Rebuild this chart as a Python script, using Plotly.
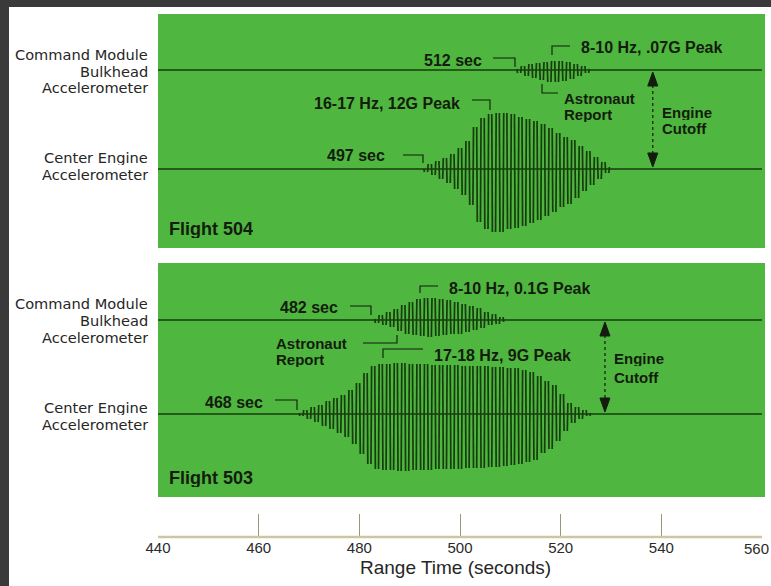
import numpy as np
import plotly.graph_objects as go

# ---------------- data ----------------
x_ticks = [440, 460, 480, 500, 520, 540, 560]
x_title = "Range Time (seconds)"
row_labels_cm = ["Command Module", "Bulkhead", "Accelerometer"]
row_labels_ce = ["Center Engine", "Accelerometer"]

# Flight 504 - command module bulkhead accelerometer (signed swing per stroke)
f504_cm_start = 511.0
f504_cm_step = 0.75
f504_cm_vals = [1, -3, 4, -6, 6, -8, 7, -10, 8, -12, 9, -12, 9, -11, 8, -9, 6, -6, 4, -3, 1]

# Flight 504 - center engine accelerometer
f504_ce_start = 492.5
f504_ce_step = 0.75
f504_ce_vals = [0, -3, 5, -6, 8, -10, 11, -14, 15, -20, 21, -26, 28, -36, 42, -53,
                51, -60, 55, -63, 56, -63, 56, -60, 55, -59, 52, -57, 50, -54, 48,
                -51, 45, -47, 41, -43, 36, -38, 32, -35, 29, -29, 23, -22, 18, -16,
                12, -10, 7, -4, 2]

# Flight 503 - command module bulkhead accelerometer
f503_cm_start = 482.75
f503_cm_step = 0.75
f503_cm_vals = [1, -3, 5, -5, 8, -7, 11, -11, 15, -14, 18, -15, 21, -16, 22, -17, 22,
                -16, 21, -15, 20, -14, 18, -14, 16, -12, 14, -10, 12, -8, 8, -5, 6,
                -4, 3, -2]

# Flight 503 - center engine accelerometer
f503_ce_start = 467.75
f503_ce_step = 0.75
f503_ce_vals = [1, -2, 4, -5, 7, -8, 9, -12, 13, -15, 16, -19, 19, -23, 24, -30, 31,
                -40, 41, -50, 48, -55, 50, -56,
                50, -56, 51, -57, 51, -57, 50, -56, 50, -56, 50, -56, 49, -55, 49,
                -55, 49, -55, 49, -55, 48, -54, 48, -54, 48, -54, 48, -53, 47, -53,
                47, -52, 46, -51, 46, -50, 44, -48, 42, -46, 38, -39, 33, -35, 29,
                -27, 20, -17, 11, -9, 7, -5, 4, -2, 1]

# event times (s)
f504_cutoff = 538.3
f503_cutoff = 528.8

# ---------------- layout constants ----------------
PX0, PX1 = 158, 762          # plot area left/right in px
PT, PB = 14, 537             # plot area top/bottom in px
W, H = 771, 586
SPAN = PX1 - PX0
HGT = PB - PT


def px_x(px):
    return (px - PX0) / SPAN


def px_y(py):
    return (PB - py) / HGT


def t_of(px):
    return 440 + (px - PX0) * 120.0 / SPAN


BASE = {"504cm": 178, "504ce": 79, "503cm": 177, "503ce": 83}
SIG = "#173d0f"
TXT = "#131c0d"
GREEN = "#4fb63f"
TICKFONT = dict(family="Liberation Sans, Arial, sans-serif", size=15, color="#2a2a2a")

fig = go.Figure()


def add_signal(start, step, vals, base, yax):
    # flat trace line across the whole panel
    fig.add_trace(go.Scatter(x=[440.0, 561.0], y=[base, base], mode="lines", yaxis=yax,
                             line=dict(color=SIG, width=1.4),
                             hoverinfo="skip", showlegend=False))
    # each swing drawn as a near-vertical pen stroke between consecutive extremes
    v = np.asarray(vals, float)
    t = start + step * np.arange(len(v))
    xs, ys = [], []
    for k in range(len(v) - 1):
        tm = 0.5 * (t[k] + t[k + 1])
        xs += [tm - 0.06, tm + 0.06, None]
        ys += [base + v[k], base + v[k + 1], None]
    fig.add_trace(go.Scatter(x=xs, y=ys, mode="lines", yaxis=yax,
                             line=dict(color=SIG, width=1.7),
                             hoverinfo="skip", showlegend=False, connectgaps=False))


add_signal(f504_cm_start, f504_cm_step, f504_cm_vals, BASE["504cm"], "y")
add_signal(f504_ce_start, f504_ce_step, f504_ce_vals, BASE["504ce"], "y")
add_signal(f503_cm_start, f503_cm_step, f503_cm_vals, BASE["503cm"], "y2")
add_signal(f503_ce_start, f503_ce_step, f503_ce_vals, BASE["503ce"], "y2")

shapes = []
# green panels
for ya in ["y", "y2"]:
    shapes.append(dict(type="rect", xref="paper", yref=ya + " domain", x0=0, x1=px_x(765),
                       y0=0, y1=1, fillcolor=GREEN, line_width=0, layer="below"))
# dark frame of the scan (kept inside the page)
shapes.append(dict(type="rect", xref="paper", yref="paper", x0=px_x(0), x1=px_x(9),
                   y0=px_y(H), y1=px_y(0), fillcolor="#3a3a3a", line_width=0, layer="above"))
shapes.append(dict(type="rect", xref="paper", yref="paper", x0=px_x(0), x1=px_x(W),
                   y0=px_y(7), y1=px_y(0), fillcolor="#3a3a3a", line_width=0, layer="above"))
# time axis line
shapes.append(dict(type="line", xref="x", yref="paper", x0=440, x1=560, y0=0, y1=0,
                   line=dict(color="#cdc5a3", width=2.5)))


def bracket(pts, yref):
    p = "M " + " L ".join(f"{t_of(a)},{b}" for a, b in pts)
    shapes.append(dict(type="path", xref="x", yref=yref, path=p,
                       line=dict(color=TXT, width=1.1)))


# top panel brackets (px x, panel units y)
bracket([(493, 190), (515, 190), (515, 181)], "y")        # 512 sec
bracket([(570, 202), (552, 202), (552, 193)], "y")        # 8-10 Hz
bracket([(542, 164), (542, 155), (558, 155)], "y")        # Astronaut report
bracket([(472, 148), (490, 148), (490, 138)], "y")        # 16-17 Hz
bracket([(403, 93), (423, 93), (423, 85)], "y")           # 497 sec
# bottom panel brackets
bracket([(350, 191), (371, 191), (371, 182)], "y2")       # 482 sec
bracket([(438, 211), (420, 211), (420, 204)], "y2")       # 8-10 Hz
bracket([(363, 154), (397, 154), (397, 162)], "y2")       # Astronaut report
bracket([(423, 148), (383, 148), (383, 139)], "y2")       # 17-18 Hz
bracket([(275, 97), (297, 97), (297, 87)], "y2")          # 468 sec


def cutoff_arrow(t, ytop, ybot, yref):
    hw = 1.0
    shapes.append(dict(type="line", xref="x", yref=yref, x0=t, x1=t, y0=ytop - 15, y1=ybot + 15,
                       line=dict(color=TXT, width=1.2, dash="dot")))
    shapes.append(dict(type="path", xref="x", yref=yref,
                       path=f"M {t-hw},{ytop-16} L {t},{ytop-2} L {t+hw},{ytop-16} Z",
                       fillcolor=TXT, line=dict(color=TXT, width=1)))
    shapes.append(dict(type="path", xref="x", yref=yref,
                       path=f"M {t-hw},{ybot+16} L {t},{ybot+2} L {t+hw},{ybot+16} Z",
                       fillcolor=TXT, line=dict(color=TXT, width=1)))


cutoff_arrow(f504_cutoff, BASE["504cm"], BASE["504ce"], "y")
cutoff_arrow(f503_cutoff, BASE["503cm"], BASE["503ce"], "y2")

ann = []
AF = dict(family="Liberation Sans, Arial, sans-serif", size=16, color=TXT)


def label(px, y, text, yref, size=16):
    f = dict(AF)
    f["size"] = size
    ann.append(dict(x=t_of(px), y=y, xref="x", yref=yref, text="<b>" + text + "</b>",
                    showarrow=False, xanchor="left", yanchor="middle", font=f,
                    height=size + 1))


label(422, 188, "512 sec", "y")
label(579, 201, "8-10 Hz, .07G Peak", "y")
label(562, 150.5, "Astronaut", "y", 15)
label(562, 134, "Report", "y", 15)
label(312, 145, "16-17 Hz, 12G Peak", "y")
label(325, 93, "497 sec", "y")
label(660, 136.5, "Engine", "y", 15)
label(660, 120, "Cutoff", "y", 15)
label(167, 20, "Flight 504", "y", 18)

label(278, 190, "482 sec", "y2")
label(447, 209, "8-10 Hz, 0.1G Peak", "y2")
label(274, 154.5, "Astronaut", "y2", 15)
label(274, 138, "Report", "y2", 15)
label(432, 142, "17-18 Hz, 9G Peak", "y2")
label(203, 95, "468 sec", "y2")
label(612, 139, "Engine", "y2", 15)
label(612, 120, "Cutoff", "y2", 15)
label(167, 20, "Flight 503", "y2", 18)

LF = dict(family="DejaVu Sans, sans-serif", size=14.6, color="#262626")
for yref, ys_cm, ys_ce in [("y", [193.5, 177, 160.5], [91, 74]), ("y2", [194, 177, 160], [90, 73])]:
    for txt, yy in zip(row_labels_cm, ys_cm):
        ann.append(dict(x=px_x(150), y=yy, xref="paper", yref=yref, text=txt, showarrow=False,
                        xanchor="right", yanchor="middle", font=LF, height=15))
    for txt, yy in zip(row_labels_ce, ys_ce):
        ann.append(dict(x=px_x(150), y=yy, xref="paper", yref=yref, text=txt, showarrow=False,
                        xanchor="right", yanchor="middle", font=LF, height=15))

ann.append(dict(x=t_of(455), y=px_y(567), xref="x", yref="paper", text=x_title,
                showarrow=False, xanchor="center", yanchor="middle",
                font=dict(family="Liberation Sans, Arial, sans-serif", size=19, color="#262626")))

# last tick label sits on the page edge: pin it inside the page
tick_text = [str(v) for v in x_ticks]
tick_text[-1] = ""
ann.append(dict(x=px_x(W), y=px_y(548), xref="paper", yref="paper", text=str(x_ticks[-1]),
                showarrow=False, xanchor="right", yanchor="middle", font=TICKFONT))

fig.update_layout(
    width=W, height=H,
    margin=dict(l=PX0, r=W - PX1, t=PT, b=H - PB, pad=0),
    paper_bgcolor="white", plot_bgcolor="white",
    shapes=shapes, annotations=ann,
    xaxis=dict(range=[440, 560], tickvals=x_ticks, ticktext=tick_text,
               ticks="inside", ticklen=23, tickwidth=1.3, tickcolor="#9d9676",
               showline=False, showgrid=False, zeroline=False,
               anchor="free", position=0, tickfont=TICKFONT),
    yaxis=dict(domain=[px_y(248), 1], range=[0, 234], visible=False, fixedrange=True),
    yaxis2=dict(domain=[px_y(497), px_y(263)], range=[0, 234], visible=False, fixedrange=True),
    showlegend=False,
)

fig.write_html("out.html", config={"displayModeBar": False},
               post_script="document.body.style.margin='0px';document.body.style.overflow='hidden';")
